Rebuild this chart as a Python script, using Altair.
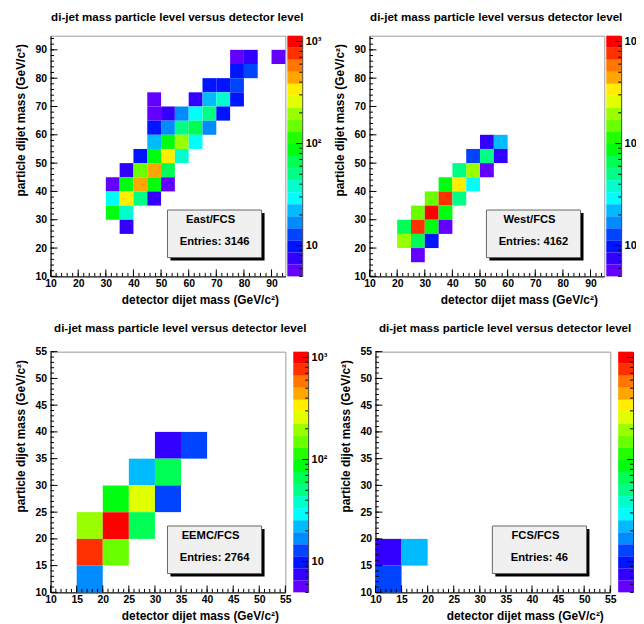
import colorsys
import numpy as np
import pandas as pd
import altair as alt

# ---------------- data ----------------
ZMIN, ZMAX = 5.0, 1140.0          # colour-bar range (log z)
N_CONT = 20                        # number of colour contours

# East/FCS : lower bin edges (GeV) and counts
east_x = [75, 80, 90, 75, 80, 65, 70, 75, 45, 60, 65, 70, 75, 45, 50, 55, 60, 65, 70,
          45, 50, 55, 60, 65, 45, 50, 55, 60, 40, 45, 50, 55, 35, 40, 45, 50,
          30, 35, 40, 45, 50, 30, 35, 40, 45, 30, 35, 35]
east_y = [85, 85, 85, 80, 80, 75, 75, 75, 70, 70, 70, 70, 70, 65, 65, 65, 65, 65, 65,
          60, 60, 60, 60, 60, 55, 55, 55, 55, 50, 50, 50, 50, 45, 45, 45, 45,
          40, 40, 40, 40, 40, 35, 35, 35, 35, 30, 30, 25]
east_n = [6, 7, 6, 10, 12, 10, 9, 13, 6, 8, 21, 37, 10, 6, 7, 16, 28, 48, 10,
          10, 16, 52, 63, 17, 23, 88, 190, 29, 10, 85, 330, 39, 7, 150, 440, 64,
          6, 90, 430, 82, 6, 29, 340, 52, 8, 84, 37, 8]

# West/FCS
west_x = [50, 55, 45, 50, 55, 40, 45, 50, 35, 40, 45, 30, 35, 40, 25, 30, 35,
          20, 25, 30, 35, 20, 25, 30, 25]
west_y = [55, 55, 50, 50, 50, 45, 45, 45, 40, 40, 40, 35, 35, 35, 30, 30, 30,
          25, 25, 25, 25, 20, 20, 20, 15]
west_n = [8, 22, 13, 49, 7, 47, 180, 6, 92, 320, 30, 145, 740, 50, 152, 980, 88,
          66, 760, 90, 6, 200, 64, 10, 6]

# EEMC/FCS
eemc_x = [30, 35, 25, 30, 20, 25, 30, 15, 20, 25, 15, 20, 15]
eemc_y = [35, 35, 30, 30, 25, 25, 25, 20, 20, 20, 15, 15, 10]
eemc_n = [8, 13, 22, 64, 86, 250, 13, 190, 990, 62, 760, 160, 17]

# FCS/FCS
fcs_x = [10, 15, 10]
fcs_y = [15, 15, 10]
fcs_n = [8, 22, 12]

BIN = 5
TITLE = "di-jet mass particle level versus detector level"
XTITLE = "detector dijet mass (GeV/c²)"
YTITLE = "particle dijet mass (GeV/c²)"

FONT = "Liberation Sans"
W, H = 237, 243
CBW = 15


def root_palette():
    cols = []
    for j in range(N_CONT):
        idx = int((j + 0.99) * 50 / N_CONT)
        hue = 280 - (idx + 1) * 5.6
        r, g, b = colorsys.hls_to_rgb(hue / 360.0, 0.5, 1.0)
        cols.append("#%02x%02x%02x" % (round(r * 255), round(g * 255), round(b * 255)))
    return cols


COLORS = root_palette()
EDGES = np.logspace(np.log10(ZMIN), np.log10(ZMAX), N_CONT + 1)
bands = pd.DataFrame({"lo": EDGES[:-1], "hi": EDGES[1:], "color": COLORS})

cb_major = pd.DataFrame({"v": [10, 100, 1000]})
cb_minor = pd.DataFrame({"v": [m * 10 ** k for k in range(0, 4) for m in range(2, 10)
                               if ZMIN <= m * 10 ** k <= ZMAX]})


def panel(xs, ys, ns, name, entries, dom, major, minor):
    df = pd.DataFrame({"x0": xs, "y0": ys, "n": ns})
    df["x1"] = df["x0"] + BIN
    df["y1"] = df["y0"] + BIN

    xsc = alt.Scale(domain=dom, nice=False, zero=False)
    ysc = alt.Scale(domain=dom, nice=False, zero=False)
    vals = list(range(dom[0], dom[1] + 1, major))
    axis_common = dict(labelFont=FONT, labelFontWeight="bold", labelFontSize=10.5,
                       labelColor="black", titleFont=FONT, titleFontWeight="bold",
                       titleFontSize=12, titleColor="black", domainColor="black",
                       tickSize=0, grid=False, titleAnchor="end", labelFlush=False,
                       labelOverlap=False, values=vals)
    xax = alt.Axis(title=XTITLE, labelPadding=2, titlePadding=6, titleX=W - 7, **axis_common)
    yax = alt.Axis(title=YTITLE, labelPadding=4, titlePadding=8, titleY=8, **axis_common)

    heat = alt.Chart(df).mark_rect().encode(
        x=alt.X("x0:Q", scale=xsc, axis=xax),
        x2="x1:Q",
        y=alt.Y("y0:Q", scale=ysc, axis=yax),
        y2="y1:Q",
        color=alt.Color("n:Q", scale=alt.Scale(type="threshold",
                                               domain=EDGES[1:-1].tolist(),
                                               range=COLORS), legend=None),
    )

    xmaj = pd.DataFrame({"v": list(range(dom[0], dom[1] + 1, major))})
    xmin = pd.DataFrame({"v": list(range(dom[0], dom[1] + 1, minor))})
    tx_maj = alt.Chart(xmaj).mark_rule(color="black", strokeWidth=1).encode(
        x=alt.X("v:Q", scale=xsc, axis=xax), y=alt.value(H), y2=alt.value(H - 7))
    tx_min = alt.Chart(xmin).mark_rule(color="black", strokeWidth=1).encode(
        x=alt.X("v:Q", scale=xsc, axis=xax), y=alt.value(H), y2=alt.value(H - 3.5))
    ty_maj = alt.Chart(xmaj).mark_rule(color="black", strokeWidth=1).encode(
        y=alt.Y("v:Q", scale=ysc, axis=yax), x=alt.value(0), x2=alt.value(7))
    ty_min = alt.Chart(xmin).mark_rule(color="black", strokeWidth=1).encode(
        y=alt.Y("v:Q", scale=ysc, axis=yax), x=alt.value(0), x2=alt.value(3.5))

    bx0, bx1, by0, by1 = 118, 213, 176, 224
    one = alt.Chart(pd.DataFrame({"t": [name], "e": ["Entries: %d" % entries]}))
    shadow = one.mark_rect(fill="black").encode(
        x=alt.value(bx0 + 3), x2=alt.value(bx1 + 3), y=alt.value(by0 + 3), y2=alt.value(by1 + 3))
    box = one.mark_rect(fill="#f0f0f0", stroke="#666666", strokeWidth=1).encode(
        x=alt.value(bx0), x2=alt.value(bx1), y=alt.value(by0), y2=alt.value(by1))
    t1 = one.mark_text(font=FONT, fontWeight="bold", fontSize=11.3, color="black",
                       baseline="middle").encode(
        text="t:N", x=alt.value((bx0 + bx1) / 2 - 4), y=alt.value(by0 + 10))
    t2 = one.mark_text(font=FONT, fontWeight="bold", fontSize=11.3, color="black",
                       baseline="middle").encode(
        text="e:N", x=alt.value((bx0 + bx1) / 2), y=alt.value(by0 + 32))

    main = alt.layer(heat, tx_maj, tx_min, ty_maj, ty_min, shadow, box, t1, t2).properties(
        width=W, height=H, view=alt.ViewBackground(stroke="#999999", strokeWidth=1))

    csc = alt.Scale(type="log", domain=[ZMIN, ZMAX], nice=False)
    cax = alt.Axis(orient="right", values=[10, 100, 1000], tickSize=0,
                   labelExpr="datum.value == 10 ? '10' : datum.value == 100 ? '10²' : '10³'",
                   labelFont=FONT, labelFontWeight="bold", labelFontSize=11,
                   labelColor="black", labelPadding=3, domainColor="#333333",
                   grid=False, title=None, labelFlush=False, labelOverlap=False)
    cb = alt.Chart(bands).mark_rect().encode(
        y=alt.Y("lo:Q", scale=csc, axis=cax),
        y2="hi:Q",
        color=alt.Color("color:N", scale=None),
    )
    cmaj = alt.Chart(cb_major).mark_rule(color="black").encode(
        y=alt.Y("v:Q", scale=csc, axis=cax), x=alt.value(CBW), x2=alt.value(CBW - 6))
    cmin = alt.Chart(cb_minor).mark_rule(color="black").encode(
        y=alt.Y("v:Q", scale=csc, axis=cax), x=alt.value(CBW), x2=alt.value(CBW - 3))
    cbar = alt.layer(cb, cmaj, cmin).properties(
        width=CBW, height=H, view=alt.ViewBackground(stroke=None))

    return alt.hconcat(main, cbar, spacing=1).properties(
        title=alt.TitleParams(TITLE, font=FONT, fontWeight="bold", fontSize=11.7,
                              color="black", anchor="middle", dx=10, offset=12))


p1 = panel(east_x, east_y, east_n, "East/FCS", 3146, [10, 95], 10, 2)
p2 = panel(west_x, west_y, west_n, "West/FCS", 4162, [10, 95], 10, 2)
p3 = panel(eemc_x, eemc_y, eemc_n, "EEMC/FCS", 2764, [10, 55], 5, 1)
p4 = panel(fcs_x, fcs_y, fcs_n, "FCS/FCS", 46, [10, 55], 5, 1)

chart = alt.vconcat(
    alt.hconcat(p1, p2, spacing=11),
    alt.hconcat(p3, p4, spacing=11),
    spacing=16,
).properties(
    padding={"left": 5, "top": 0, "right": -16, "bottom": 0},
    background="white",
)

chart.save("out.html", embed_options={"renderer": "svg", "actions": False})
